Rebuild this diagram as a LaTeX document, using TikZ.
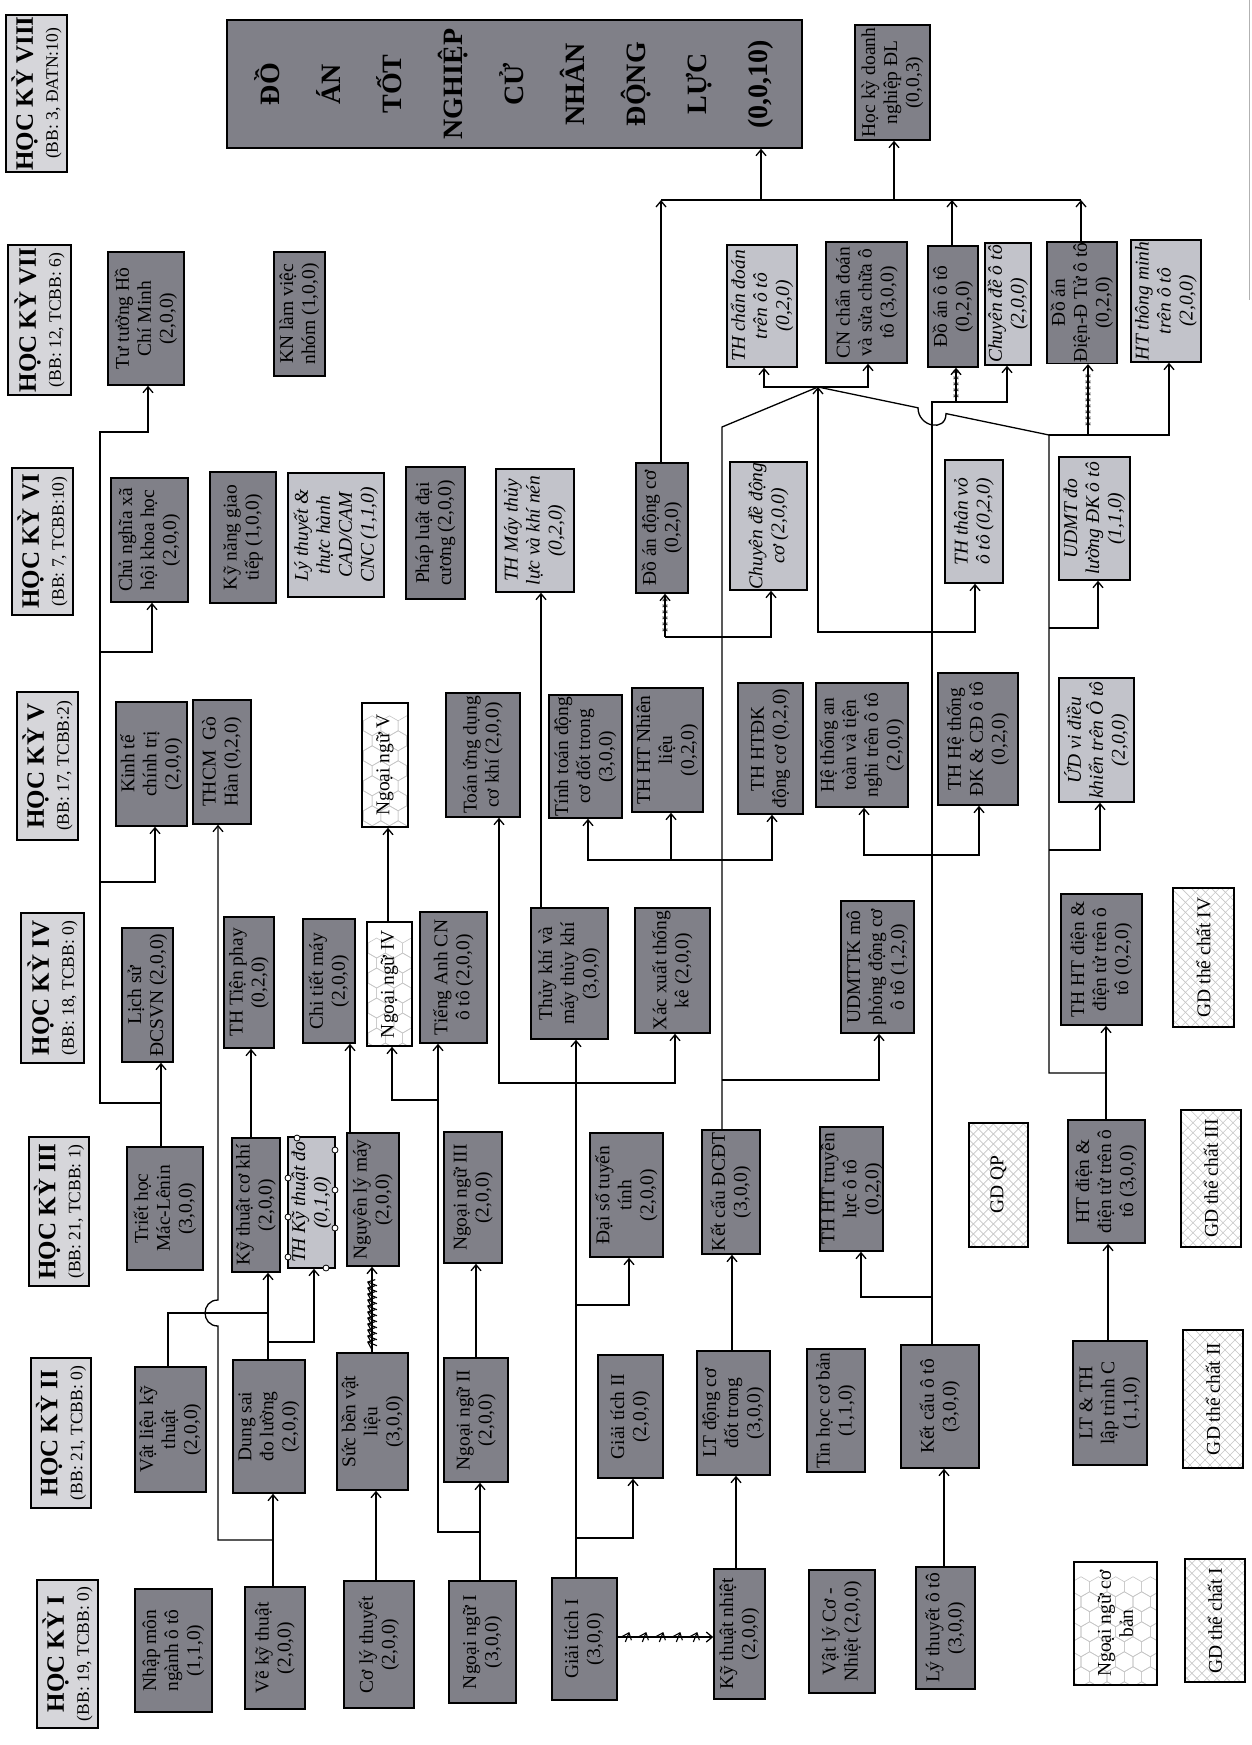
\documentclass[tikz,border=0pt]{standalone}
\usepackage{fontspec}
\setmainfont{Liberation Serif}
\usetikzlibrary{arrows.meta,decorations.markings}
\definecolor{dkg}{RGB}{128,128,136}
\definecolor{ltg}{RGB}{194,195,202}
\definecolor{hdg}{RGB}{214,214,218}
\newcommand\fs{\fontsize{19.5}{22}\selectfont}
\newcommand\cb[7]{%
\pgfmathsetmacro\cbw{#6-#4}%
\pgfmathsetmacro\cbh{#5-#3}%
\pgfmathsetmacro\cbx{(#3+#5)/2}%
\pgfmathsetmacro\cby{(#4+#6)/2}%
\node[#2,rotate=90,minimum width=\cbw pt,minimum height=\cbh pt] (#1) at (\cbx,\cby) {#7};}
\newcommand\hdr[2]{{\fontsize{25}{26}\selectfont\bfseries #1}\\#2}
\begin{document}
\begin{tikzpicture}[x=1pt,y=-1pt,
 cbox/.style={draw,line width=1.5pt,inner sep=0.5pt,align=center,font=\fs},
 dk/.style={cbox,fill=dkg},
 lt/.style={cbox,fill=ltg,font=\fs\itshape},
 hd/.style={cbox,fill=hdg,font=\fontsize{17.5}{25}\selectfont},
 hexbg/.style={path picture={\begin{scope}[shift={(path picture bounding box.center)}]
   \foreach \i in {-6,...,6}{\foreach \j in {-5,...,5}{
     \pgfmathsetmacro\hx{\i*15}\pgfmathsetmacro\hy{(\j+0.5*mod(abs(\i),2))*17.32}
     \draw[gray!45,line width=0.6pt] (\hx,\hy) +(10,0) -- +(5,8.66) -- +(-5,8.66) -- +(-10,0) -- +(-5,-8.66) -- +(5,-8.66) -- cycle;}}
   \end{scope}}},
 xbg/.style={path picture={\begin{scope}[shift={(path picture bounding box.center)}]
   \foreach \k in {-14,...,14}{\draw[gray!45,line width=0.6pt] (\k*10-90,-90) -- ++(180,180);
     \draw[gray!45,line width=0.6pt] (\k*10+90,-90) -- ++(-180,180);}
   \end{scope}}},
 hx/.style={cbox,fill=white,hexbg},
 xw/.style={cbox,fill=white,xbg},
 ln/.style={line width=1.3pt},
 ar/.style={ln,-{Straight Barb[length=6pt,width=10pt]}},
 stars/.style={postaction={decorate,decoration={markings,mark=between positions 0.12 and 0.85 step 6pt with {\node[inner sep=0pt,font=\fontsize{13}{13}\selectfont]{*};}}}},
 tickline/.style={postaction={decorate,decoration={markings,mark=between positions 0.1 and 0.85 step #1 with {\draw[line width=1.1pt] (-2pt,-5pt) -- (2pt,5pt);}}}}
]
\fill[white] (0,0) rectangle (1252,1745);
\useasboundingbox (0,0) rectangle (1252,1745);
\draw[gray!60,line width=0.8pt] (1249,0) -- (1249,300);

% headers
\cb{hVIII}{hd}{6}{15}{67}{172}{\hdr{HỌC KỲ VIII}{(BB: 3, ĐATN:10)}}
\cb{hVII}{hd}{8}{245}{71}{395}{\hdr{HỌC KỲ VII}{(BB: 12, TCBB: 6)}}
\cb{hVI}{hd}{12}{468}{73}{615}{\hdr{HỌC KỲ VI}{(BB: 7, TCBB:10)}}
\cb{hV}{hd}{17}{692}{78}{840}{\hdr{HỌC KỲ V}{(BB: 17, TCBB:2)}}
\cb{hIV}{hd}{21}{913}{84}{1063}{\hdr{HỌC KỲ IV}{(BB: 18, TCBB: 0)}}
\cb{hIII}{hd}{29}{1137}{89}{1286}{\hdr{HỌC KỲ III}{(BB: 21, TCBB: 1)}}
\cb{hII}{hd}{31}{1358}{91}{1508}{\hdr{HỌC KỲ II}{(BB: 21, TCBB: 0)}}
\cb{hI}{hd}{37}{1580}{98}{1728}{\hdr{HỌC KỲ I}{(BB: 19, TCBB: 0)}}

% semester VIII
\cb{datn}{dk,font=\fontsize{28}{61}\selectfont\bfseries}{227}{20}{802}{148}{ĐỒ\\ÁN\\TỐT\\NGHIỆP\\CỬ\\NHÂN\\ĐỘNG\\LỰC\\(0,0,10)}
\cb{hkdn}{dk}{855}{25}{930}{140}{Học kỳ doanh\\nghiệp ĐL\\(0,0,3)}

% semester VII
\cb{tthcm}{dk}{108}{252}{184}{385}{Tư tưởng Hồ\\Chí Minh\\(2,0,0)}
\cb{knlvn}{dk}{274}{252}{325}{376}{KN làm việc\\nhóm (1,0,0)}
\cb{thcd}{lt}{727}{245}{797}{367}{TH chẩn đoán\\trên ô tô\\(0,2,0)}
\cb{cncd}{dk}{826}{242}{907}{363}{CN chẩn đoán\\và sửa chữa ô\\tô (3,0,0)}
\cb{daot}{dk}{928}{246}{978}{367}{Đồ án ô tô\\(0,2,0)}
\cb{cdot}{lt}{985}{243}{1031}{365}{Chuyên đề ô tô\\(2,0,0)}
\cb{dadt}{dk}{1047}{242}{1117}{363}{Đồ án\\Điện-Đ Tử ô tô\\(0,2,0)}
\cb{htmt}{lt}{1131}{240}{1201}{362}{HT thông minh\\trên ô tô\\(2,0,0)}

% semester VI
\cb{cnxh}{dk}{111}{478}{188}{602}{Chủ nghĩa xã\\hội khoa học\\(2,0,0)}
\cb{kngt}{dk}{210}{472}{276}{603}{Kỹ năng giao\\tiếp (1,0,0)}
\cb{cad}{lt}{288}{473}{384}{597}{Lý thuyết \&\\thực hành\\CAD/CAM\\CNC (1,1,0)}
\cb{pldc}{dk}{406}{467}{465}{599}{Pháp luật đại\\cương (2,0,0)}
\cb{thmtl}{lt}{496}{469}{574}{592}{TH Máy thủy\\lực và khí nén\\(0,2,0)}
\cb{dadc}{dk}{636}{463}{688}{593}{Đồ án động cơ\\(0,2,0)}
\cb{cddc}{lt}{730}{462}{807}{590}{Chuyên đề động\\cơ (2,0,0)}
\cb{thtv}{lt}{945}{460}{1003}{583}{TH thân vỏ\\ô tô (0,2,0)}
\cb{udmt}{lt}{1059}{457}{1130}{580}{UDMT đo\\lường ĐK ô tô\\(1,1,0)}

% semester V
\cb{ktct}{dk}{116}{702}{187}{826}{Kinh tế\\chính trị\\(2,0,0)}
\cb{thcm}{dk}{193}{700}{251}{824}{THCM~ Gò\\Hàn (0,2,0)}
\cb{nn5}{hx}{362}{703}{408}{827}{Ngoại ngữ V}
\cb{tudck}{dk}{446}{693}{520}{817}{Toán ứng dụng\\cơ khí (2,0,0)}
\cb{ttdc}{dk}{549}{695}{622}{818}{Tính toán động\\cơ đốt trong\\(3,0,0)}
\cb{thnl}{dk}{632}{688}{703}{812}{TH HT Nhiên\\liệu\\(0,2,0)}
\cb{thdk}{dk}{738}{683}{803}{814}{TH HTĐK\\động cơ (0,2,0)}
\cb{htat}{dk}{816}{683}{908}{807}{Hệ thống an\\toàn và tiện\\nghi trên ô tô\\(2,0,0)}
\cb{thcd5}{dk}{938}{673}{1018}{805}{TH Hệ thống\\ĐK \& CĐ ô tô\\(0,2,0)}
\cb{udvdk}{lt}{1059}{678}{1134}{802}{ỨD vi điều\\khiển trên Ô tô\\(2,0,0)}

% semester IV
\cb{lsd}{dk}{122}{928}{173}{1062}{Lịch sử\\ĐCSVN (2,0,0)}
\cb{thtp}{dk}{224}{917}{274}{1048}{TH Tiện phay\\(0,2,0)}
\cb{ctm}{dk}{303}{919}{355}{1043}{Chi tiết máy\\(2,0,0)}
\cb{nn4}{hx}{367}{922}{412}{1046}{Ngoại ngữ IV}
\cb{tacn}{dk}{420}{912}{487}{1043}{Tiếng Anh CN\\ô tô (2,0,0)}
\cb{tk}{dk}{531}{908}{608}{1039}{Thủy khí và\\máy thủy khí\\(3,0,0)}
\cb{xstk}{dk}{635}{908}{710}{1033}{Xác xuất thống\\kê (2,0,0)}
\cb{udmttk}{dk}{841}{901}{914}{1033}{UDMTTK mô\\phỏng động cơ\\ô tô (1,2,0)}
\cb{thhtd}{dk}{1061}{894}{1142}{1025}{TH HT điện \&\\điện tử trên ô\\tô (0,2,0)}
\cb{gd4}{xw}{1173}{888}{1234}{1027}{GD thể chất IV}

% semester III
\cb{th}{dk}{127}{1147}{203}{1270}{Triết học\\Mác-Lênin\\(3,0,0)}
\cb{ktck}{dk}{232}{1138}{280}{1272}{Kỹ thuật cơ khí\\(2,0,0)}
\cb{thktd}{lt}{288}{1137}{335}{1268}{TH Kỹ thuật đo\\(0,1,0)}
\cb{nlm}{dk}{347}{1133}{399}{1266}{Nguyên lý máy\\(2,0,0)}
\cb{nn3}{dk}{444}{1132}{502}{1263}{Ngoại ngữ III\\(2,0,0)}
\cb{dstt}{dk}{590}{1133}{663}{1257}{Đại số tuyến\\tính\\(2,0,0)}
\cb{kcdc}{dk}{702}{1130}{760}{1254}{Kết cấu ĐCĐT\\(3,0,0)}
\cb{thtl}{dk}{820}{1127}{883}{1251}{TH HT truyền\\lực ô tô\\(0,2,0)}
\cb{gdqp}{xw}{969}{1123}{1028}{1247}{GD QP}
\cb{htd}{dk}{1068}{1120}{1145}{1243}{HT điện \&\\điện tử trên ô\\tô (3,0,0)}
\cb{gd3}{xw}{1181}{1110}{1241}{1247}{GD thể chất III}

% semester II
\cb{vlkt}{dk}{135}{1367}{206}{1492}{Vật liệu kỹ\\thuật\\(2,0,0)}
\cb{dsdl}{dk}{233}{1360}{305}{1493}{Dung sai\\đo lường\\(2,0,0)}
\cb{sbvl}{dk}{337}{1353}{408}{1490}{Sức bền vật\\liệu\\(3,0,0)}
\cb{nn2}{dk}{444}{1358}{508}{1482}{Ngoại ngữ II\\(2,0,0)}
\cb{gt2}{dk}{598}{1355}{663}{1478}{Giải tích II\\(2,0,0)}
\cb{ltdc}{dk}{697}{1351}{770}{1475}{LT động cơ\\đốt trong\\(3,0,0)}
\cb{thcb}{dk}{807}{1349}{865}{1472}{Tin học cơ bản\\(1,1,0)}
\cb{kcot}{dk}{901}{1345}{979}{1468}{Kết cấu ô tô\\(3,0,0)}
\cb{ltc}{dk}{1073}{1341}{1147}{1465}{LT \& TH\\lập trình C\\(1,1,0)}
\cb{gd2}{xw}{1183}{1330}{1243}{1468}{GD thể chất II}

% semester I
\cb{nm}{dk}{135}{1589}{212}{1712}{Nhập môn\\ngành ô tô\\(1,1,0)}
\cb{vkt}{dk}{245}{1587}{305}{1709}{Vẽ kỹ thuật\\(2,0,0)}
\cb{clt}{dk}{344}{1581}{414}{1708}{Cơ lý thuyết\\(2,0,0)}
\cb{nn1}{dk}{449}{1581}{516}{1703}{Ngoại ngữ I\\(3,0,0)}
\cb{gt1}{dk}{552}{1578}{617}{1700}{Giải tích I\\(3,0,0)}
\cb{ktn}{dk}{714}{1569}{765}{1699}{Kỹ thuật nhiệt\\(2,0,0)}
\cb{vlcn}{dk}{809}{1570}{875}{1693}{Vật lý Cơ -\\Nhiệt (2,0,0)}
\cb{ltot}{dk}{916}{1567}{975}{1689}{Lý thuyết ô tô\\(3,0,0)}
\cb{nncb}{hx}{1074}{1562}{1157}{1685}{Ngoại ngữ cơ\\bản}
\cb{gd1}{xw}{1185}{1559}{1245}{1682}{GD thể chất I}

% handles on TH Ky thuat do
\foreach \p in {(288,1178),(288,1217),(288,1257),(335,1150),(335,1190),(335,1228),(297,1138),(326,1268)}
  \draw[fill=white,line width=0.8pt] \p circle[radius=3pt];

% ---- connectors ----
\coordinate (J1) at (818,387);
% politics chain
\draw[ar] (th.east -| 161,0) -- (lsd.west -| 161,0);
\draw[ar] (161,1103) -- (100,1103) -- (100,432) -| (tthcm.west -| 148,0);
\draw[ar] (100,882) -| (ktct.west -| 155,0);
\draw[ar] (100,652) -| (cnxh.west -| 152,0);
% drawing / mechanics
\draw[ar] (vkt.east -| 273,0) -- (dsdl.west -| 273,0);
\draw[ar] (273,1540) -- (218,1540) -- (218,1326) to[out=180,in=180,looseness=1.7] (218,1300) -- (thcm.west -| 218,0);
\draw[ln] (vlkt.east -| 168,0) |- (268,1313);
\draw[ar] (dsdl.east -| 268,0) -- (ktck.west -| 268,0);
\draw[ar] (268,1342) -| (thktd.west -| 314,0);
\draw[ar] (ktck.east -| 251,0) -- (thtp.west -| 251,0);
\draw[ar] (nlm.east -| 350,0) -- (ctm.west -| 350,0);
\draw[ar,tickline=6pt] (sbvl.east -| 372,0) -- (nlm.west -| 372,0);
\draw[ar] (clt.east -| 376,0) -- (sbvl.west -| 376,0);
% languages
\draw[ar] (nn1.east -| 480,0) -- (nn2.west -| 480,0);
\draw[ar] (480,1532) -- (438,1532) -- (tacn.west -| 438,0);
\draw[ar] (438,1100) -| (nn4.west -| 392,0);
\draw[ar] (nn2.east -| 476,0) -- (nn3.west -| 476,0);
\draw[ar] (nn4.east -| 388,0) -- (nn5.west -| 388,0);
% calculus
\draw[ar] (gt1.east -| 576,0) -- (tk.west -| 576,0);
\draw[ar] (576,1538) -| (gt2.west -| 633,0);
\draw[ar] (576,1305) -| (dstt.west -| 629,0);
\draw[ar] (576,1083) -| (tudck.west -| 499,0);
\draw[ar] (576,1083) -| (xstk.west -| 675,0);
\draw[ar] (tk.east -| 541,0) -- (thmtl.west -| 541,0);
\draw[ar,tickline=17pt] (gt1.south |- 0,1637) -- (ktn.north |- 0,1637);
% engine chain
\draw[ar] (ktn.east -| 736,0) -- (ltdc.west -| 736,0);
\draw[ar] (ltdc.east -| 732,0) -- (kcdc.west -| 732,0);
\draw[ln] (kcdc.east -| 722,0) -- (722,427) -- (J1);
\draw[ar] (722,1080) -| (udmttk.west -| 879,0);
\draw[ar] (722,860) -| (ttdc.west -| 588,0);
\draw[ar] (722,860) -| (thnl.west -| 671,0);
\draw[ar] (722,860) -| (thdk.west -| 772,0);
\draw[ln] (722,637) -- (665,637);
\draw[ar,stars] (665,637) -- (dadc.west -| 665,0);
\draw[ar] (722,637) -| (cddc.west -| 771,0);
\draw[ar] (J1) -| (thcd.west -| 764,0);
\draw[ar] (J1) -| (cncd.west -| 868,0);
% car structure chain
\draw[ar] (ltot.east -| 944,0) -- (kcot.west -| 944,0);
\draw[ar] (kcot.east -| 932,0) -- (932,402) -| (cdot.west -| 1007,0);
\draw[ar,stars] (956,402) -- (daot.west -| 956,0);
\draw[ar] (932,1297) -| (thtl.west -| 861,0);
\draw[ar] (932,855) -| (htat.west -| 864,0);
\draw[ar] (932,855) -| (thcd5.west -| 979,0);
\draw[ar] (932,632) -| (thtv.west -| 975,0);
\draw[ar] (932,632) -| (J1);
% electrical chain
\draw[ar] (ltc.east -| 1108,0) -- (htd.west -| 1108,0);
\draw[ar] (htd.east -| 1106,0) -- (thhtd.west -| 1106,0);
\draw[ln] (1106,1073) -- (1049,1073) -- (1049,435) -- (946,413.6) to[out=-90,in=-90,looseness=1.7] (918,407.8) -- (J1);
\draw[ar] (1049,435) -| (htmt.west -| 1169,0);
\draw[ar,stars] (1088,435) -- (dadt.west -| 1088,0);
\draw[ar] (1049,850) -| (udvdk.west -| 1100,0);
\draw[ar] (1049,628) -| (udmt.west -| 1098,0);
% final bus
\draw[ar] (dadc.east -| 661,0) -- (661,200);
\draw[ar] (daot.east -| 952,0) -- (952,200);
\draw[ar] (dadt.east -| 1081,0) -- (1081,200);
\draw[ln] (661,200) -- (1081,200);
\draw[ar] (761,200) -- (datn.west -| 761,0);
\draw[ar] (894,200) -- (hkdn.west -| 894,0);
\end{tikzpicture}
\end{document}
